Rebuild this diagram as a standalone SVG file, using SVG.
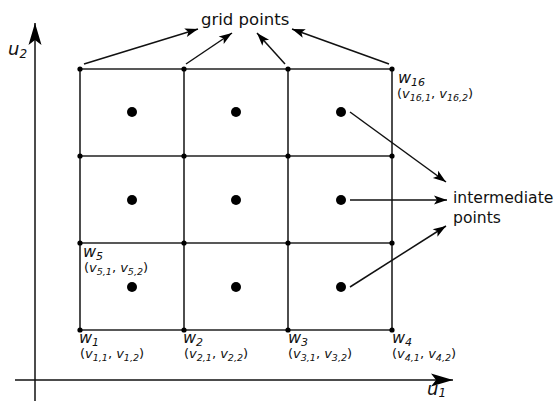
<svg xmlns="http://www.w3.org/2000/svg" width="555" height="401" viewBox="0 0 555 401">
<style>
text{font-family:"DejaVu Sans","Liberation Sans",sans-serif;fill:#111}
.lbl{font-size:16px}
.w{font-size:16px;font-style:italic}
.ws{font-size:11px;font-style:italic}
.ax{font-size:18px;font-style:italic}
.axs{font-size:12px;font-style:italic}
.v{font-size:13px}
.vi{font-style:italic}
.vs{font-size:9.5px;font-style:italic}
.grid{stroke:#222;stroke-width:1.6;fill:none}
.conn{stroke:#111;stroke-width:1.5;fill:none}
.gp{fill:#000}
.ip{fill:#000}
</style>
<defs>
<marker id="ah" markerUnits="userSpaceOnUse" markerWidth="16" markerHeight="12" viewBox="-14 -6 16 12" refX="0" refY="0" orient="auto">
<path d="M0,0 L-13,-4.5 L-10,0 L-13,4.5 Z" fill="#000"/>
</marker>
<marker id="axh" markerUnits="userSpaceOnUse" markerWidth="26" markerHeight="16" viewBox="-24 -8 26 16" refX="0" refY="0" orient="auto">
<path d="M0,0 L-22,-6.5 L-17,0 L-22,6.5 Z" fill="#000"/>
</marker>
</defs>

<g id="axes">
<line class="conn" x1="35" y1="401" x2="35" y2="23" marker-end="url(#axh)"/>
<line class="conn" x1="15" y1="380" x2="453" y2="380" marker-end="url(#axh)"/>
<text x="8" y="55"><tspan class="ax">u</tspan><tspan class="axs" dy="3">2</tspan></text>
<text x="427" y="395"><tspan class="ax">u</tspan><tspan class="axs" dy="2">1</tspan></text>
</g>

<g id="grid">
<path class="grid" d="M80,69 H392 M80,156 H392 M80,243 H392 M80,330 H392 M80,69 V330 M184,69 V330 M288,69 V330 M392,69 V330"/>
</g>

<g id="grid-points">
<circle class="gp" cx="80" cy="69" r="2.6"/><circle class="gp" cx="184" cy="69" r="2.6"/><circle class="gp" cx="288" cy="69" r="2.6"/><circle class="gp" cx="392" cy="69" r="2.6"/>
<circle class="gp" cx="80" cy="156" r="2.6"/><circle class="gp" cx="184" cy="156" r="2.6"/><circle class="gp" cx="288" cy="156" r="2.6"/><circle class="gp" cx="392" cy="156" r="2.6"/>
<circle class="gp" cx="80" cy="243" r="2.6"/><circle class="gp" cx="184" cy="243" r="2.6"/><circle class="gp" cx="288" cy="243" r="2.6"/><circle class="gp" cx="392" cy="243" r="2.6"/>
<circle class="gp" cx="80" cy="330" r="2.6"/><circle class="gp" cx="184" cy="330" r="2.6"/><circle class="gp" cx="288" cy="330" r="2.6"/><circle class="gp" cx="392" cy="330" r="2.6"/>
</g>

<g id="intermediate-points">
<circle class="ip" cx="132" cy="112" r="5"/><circle class="ip" cx="236" cy="112" r="5"/><circle class="ip" cx="341" cy="112" r="5"/>
<circle class="ip" cx="132" cy="200" r="5"/><circle class="ip" cx="236" cy="200" r="5"/><circle class="ip" cx="341" cy="200" r="5"/>
<circle class="ip" cx="132" cy="287" r="5"/><circle class="ip" cx="236" cy="287" r="5"/><circle class="ip" cx="341" cy="287" r="5"/>
</g>

<g id="label-grid-points"><text class="lbl" x="201" y="25" style="font-size:16.5px">grid points</text></g>
<g id="label-intermediate"><text class="lbl" x="453" y="203" style="font-size:15.6px">intermediate</text><text class="lbl" x="453" y="223" style="font-size:15.6px">points</text></g>

<g id="w1"><text x="79" y="343"><tspan class="w">w</tspan><tspan class="ws" dy="3">1</tspan></text>
<text class="v" x="80" y="358">(<tspan class="vi">v</tspan><tspan class="vs" dy="3">1,1</tspan><tspan dy="-3">, </tspan><tspan class="vi">v</tspan><tspan class="vs" dy="3">1,2</tspan><tspan dy="-3">)</tspan></text></g>
<g id="w2"><text x="183" y="343"><tspan class="w">w</tspan><tspan class="ws" dy="3">2</tspan></text>
<text class="v" x="184" y="358">(<tspan class="vi">v</tspan><tspan class="vs" dy="3">2,1</tspan><tspan dy="-3">, </tspan><tspan class="vi">v</tspan><tspan class="vs" dy="3">2,2</tspan><tspan dy="-3">)</tspan></text></g>
<g id="w3"><text x="288" y="343"><tspan class="w">w</tspan><tspan class="ws" dy="3">3</tspan></text>
<text class="v" x="288" y="358">(<tspan class="vi">v</tspan><tspan class="vs" dy="3">3,1</tspan><tspan dy="-3">, </tspan><tspan class="vi">v</tspan><tspan class="vs" dy="3">3,2</tspan><tspan dy="-3">)</tspan></text></g>
<g id="w4"><text x="392" y="343"><tspan class="w">w</tspan><tspan class="ws" dy="3">4</tspan></text>
<text class="v" x="392" y="358">(<tspan class="vi">v</tspan><tspan class="vs" dy="3">4,1</tspan><tspan dy="-3">, </tspan><tspan class="vi">v</tspan><tspan class="vs" dy="3">4,2</tspan><tspan dy="-3">)</tspan></text></g>
<g id="w5"><text x="83" y="257"><tspan class="w">w</tspan><tspan class="ws" dy="3">5</tspan></text>
<text class="v" x="84" y="272">(<tspan class="vi">v</tspan><tspan class="vs" dy="3">5,1</tspan><tspan dy="-3">, </tspan><tspan class="vi">v</tspan><tspan class="vs" dy="3">5,2</tspan><tspan dy="-3">)</tspan></text></g>
<g id="w16"><text x="398" y="83"><tspan class="w">w</tspan><tspan class="ws" dy="3">16</tspan></text>
<text class="v" x="397" y="98">(<tspan class="vi">v</tspan><tspan class="vs" dy="3">16,1</tspan><tspan dy="-3">, </tspan><tspan class="vi">v</tspan><tspan class="vs" dy="3">16,2</tspan><tspan dy="-3">)</tspan></text></g>

<g id="connectors">
<line class="conn" x1="84" y1="64" x2="198" y2="29" marker-end="url(#ah)"/>
<line class="conn" x1="186" y1="64" x2="232" y2="33" marker-end="url(#ah)"/>
<line class="conn" x1="285" y1="64" x2="257" y2="33" marker-end="url(#ah)"/>
<line class="conn" x1="389" y1="64" x2="292" y2="29" marker-end="url(#ah)"/>
<line class="conn" x1="350" y1="112" x2="446" y2="182" marker-end="url(#ah)"/>
<line class="conn" x1="350" y1="200" x2="447" y2="200" marker-end="url(#ah)"/>
<line class="conn" x1="350" y1="287" x2="446" y2="226" marker-end="url(#ah)"/>
</g>
</svg>
